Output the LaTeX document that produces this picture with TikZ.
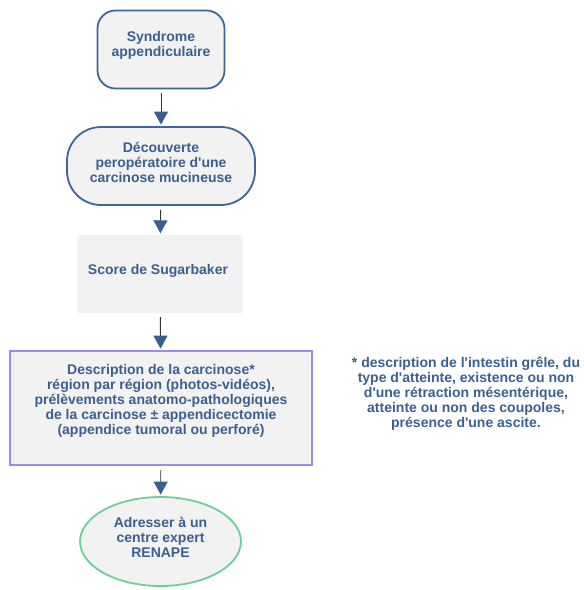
\documentclass[tikz,border=0pt]{standalone}
\usepackage{fontspec}
\newfontfamily\lsans{Liberation Sans}
\usetikzlibrary{arrows.meta,shapes.geometric}
\definecolor{txtblue}{HTML}{3B5F8F}
\definecolor{bordblue}{HTML}{3E6697}
\definecolor{arrblue}{HTML}{3A5E91}
\definecolor{boxfill}{HTML}{F2F2F2}
\definecolor{purp}{HTML}{9F89EE}
\definecolor{grn}{HTML}{6CCF97}
\tikzset{
  base/.style={fill=boxfill, text=txtblue, align=center, inner sep=0pt,
    font=\lsans\bfseries\fontsize{14}{15}\selectfont},
  termbox/.style={base, draw=bordblue, line width=1.8pt},
  plainbox/.style={base},
  descbox/.style={base, draw=purp, line width=1.8pt},
  endell/.style={base, ellipse, draw=grn, line width=1.8pt},
  txt/.style={text=txtblue, align=center, inner sep=0pt,
    font=\lsans\bfseries\fontsize{14}{15}\selectfont},
  flow/.style={draw=black!80, line width=0.9pt, shorten <=4pt, shorten >=1.5pt,
    -{Triangle[width=14pt,length=13pt,color=arrblue]}}
}
\begin{document}
\begin{tikzpicture}[x=1pt,y=1pt]
\useasboundingbox (0,0) rectangle (584,-590);
\node[termbox, rounded corners=18pt, minimum width=127pt, minimum height=78pt] (n1) at (161,-49.5) {};
\node[txt] (t1) at (161,-45.5) {Syndrome\\appendiculaire};
\node[termbox, rounded corners=34pt, minimum width=188pt, minimum height=78pt] (n2) at (161,-166) {};
\node[txt] (t2) at (161,-162.5) {Découverte\\peropératoire d'une\\carcinose mucineuse};
\node[plainbox, minimum width=166pt, minimum height=78pt] (n3) at (160,-274) {};
\node[txt] (t3) at (158,-271) {Score de Sugarbaker};
\node[descbox, minimum width=302pt, minimum height=114pt] (n4) at (161,-408) {};
\node[txt] (t4) at (161,-401) {Description de la carcinose*\\région par région (photos-vidéos),\\prélèvements anatomo-pathologiques\\de la carcinose ± appendicectomie\\(appendice tumoral ou perforé)};
\node[endell, minimum width=161pt, minimum height=89pt] (n5) at (160.5,-541.5) {};
\node[txt] (t5) at (160.5,-537.5) {Adresser à un\\centre expert\\RENAPE};
\node[txt] (note) at (466,-394) {* description de l'intestin grêle, du\\type d'atteinte, existence ou non\\d'une rétraction mésentérique,\\atteinte ou non des coupoles,\\présence d'une ascite.};
\draw[flow] (n1) -- (n2);
\draw[flow] (n2) -- (n3);
\draw[flow] (n3) -- (n4);
\draw[flow] (n4) -- (n5);
\end{tikzpicture}
\end{document}
